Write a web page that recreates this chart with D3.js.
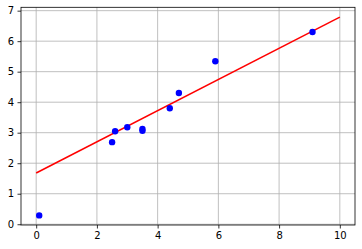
<!DOCTYPE html>
<html lang="en">
<head>
<meta charset="utf-8">
<script src="https://d3js.org/d3.v7.min.js"></script>
<style>
body { margin: 0; background: #fff; }
text { font-family: "DejaVu Sans", sans-serif; font-size: 10px; fill: #000; }
</style>
</head>
<body>
</body>
<script type="text/javascript">

// scatter points
var pointX = [0.1, 2.5, 2.6, 3.0, 3.5, 3.5, 4.4, 4.7, 5.9, 9.1]
var pointY = [0.29, 2.69, 3.05, 3.18, 3.12, 3.06, 3.80, 4.30, 5.34, 6.30]

// fitted line end points
var lineX = [0, 10]
var lineY = [1.68, 6.79]

var xTicks = [0, 2, 4, 6, 8, 10]
var yTicks = [0, 1, 2, 3, 4, 5, 6, 7]

var W = 362, H = 249
var mLeft = 21, mTop = 7.3, mRight = 355, mBottom = 225

var svg = d3.select("body")
  .append("svg")
  .attr("width", W)
  .attr("height", H)

var x = d3.scaleLinear().domain([-0.5, 10.5]).range([mLeft, mRight])
var y = d3.scaleLinear().domain([-0.025, 7.11]).range([mBottom, mTop])

// grid
svg.append("g").selectAll("line")
  .data(xTicks).enter().append("line")
  .attr("x1", d => x(d)).attr("x2", d => x(d))
  .attr("y1", mTop).attr("y2", mBottom)
  .attr("stroke", "#b0b0b0").attr("stroke-width", 0.8)

svg.append("g").selectAll("line")
  .data(yTicks).enter().append("line")
  .attr("y1", d => y(d)).attr("y2", d => y(d))
  .attr("x1", mLeft).attr("x2", mRight)
  .attr("stroke", "#b0b0b0").attr("stroke-width", 0.8)

// fitted line
var data = lineX.map((d, i) => ({x: d, y: lineY[i]}))
svg.append("path")
  .datum(data)
  .attr("d", d3.line().x(d => x(d.x)).y(d => y(d.y)))
  .attr("fill", "none")
  .attr("stroke", "#ff0000")
  .attr("stroke-width", 1.5)

// points
var pts = pointX.map((d, i) => ({x: d, y: pointY[i]}))
svg.append("g").selectAll("circle")
  .data(pts).enter().append("circle")
  .attr("cx", d => x(d.x))
  .attr("cy", d => y(d.y))
  .attr("r", 3.2)
  .attr("fill", "#0000ff")

// axes
svg.append("g")
  .attr("transform", "translate(0," + mBottom + ")")
  .call(d3.axisBottom(x).tickValues(xTicks).tickSize(3.5).tickPadding(3.5))
svg.append("g")
  .attr("transform", "translate(" + mLeft + ",0)")
  .call(d3.axisLeft(y).tickValues(yTicks).tickSize(3.5).tickPadding(3.5))

svg.selectAll(".domain").remove()
svg.selectAll(".tick line").attr("stroke", "#000").attr("stroke-width", 0.8)
svg.selectAll(".tick text").attr("fill", "#000").style("font-size", "10px")
  .style("font-family", "DejaVu Sans")

// frame
svg.append("rect")
  .attr("x", mLeft).attr("y", mTop)
  .attr("width", mRight - mLeft).attr("height", mBottom - mTop)
  .attr("fill", "none")
  .attr("stroke", "#000")
  .attr("stroke-width", 0.8)

</script>
</html>
